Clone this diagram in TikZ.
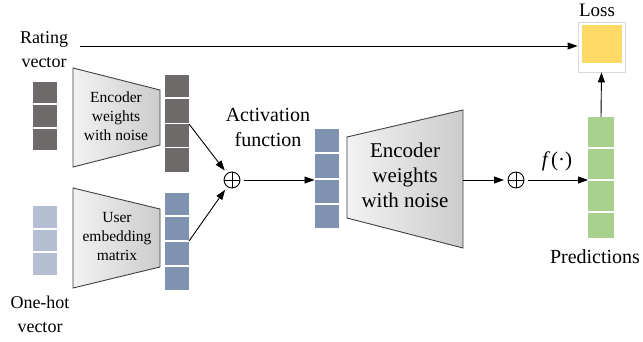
\documentclass[tikz,border=0pt]{standalone}
\usepackage{fontspec}
\setmainfont{Liberation Serif}
\usetikzlibrary{arrows.meta}
\definecolor{darkcell}{HTML}{6E6A6A}
\definecolor{onehotcell}{HTML}{B4BFD4}
\definecolor{bluecell}{HTML}{7F92AF}
\definecolor{greencell}{HTML}{A9D18E}
\definecolor{losscell}{HTML}{FFD966}
\definecolor{trapedge}{HTML}{404040}
\tikzset{
  colbox/.style={draw=none, inner sep=0pt, outer sep=0pt, minimum width=24pt},
  sepline/.style={white, line width=1.6pt},
  trapbox/.style={draw=trapedge, line width=0.9pt, left color=gray!10, right color=gray!40},
  lbl/.style={align=center, inner sep=0pt, font=\fontsize{18}{24}\selectfont},
  smalltrap/.style={align=center, inner sep=0pt, font=\fontsize{15.5}{19}\selectfont},
  bigtrap/.style={align=center, inner sep=0pt, font=\fontsize{21}{25}\selectfont},
  arr/.style={line width=0.9pt, -{Triangle[length=10pt,width=7pt]}},
  opl/.style={circle, draw, line width=0.9pt, minimum size=16pt, inner sep=0pt, outer sep=4pt,
    path picture={\draw[line width=0.9pt] (path picture bounding box.north) -- (path picture bounding box.south)
      (path picture bounding box.west) -- (path picture bounding box.east);}},
}
\begin{document}
\begin{tikzpicture}[x=1pt,y=-1pt]
\useasboundingbox (0,0) rectangle (643,342);

% labels left
\node[lbl] (rvlbl) at (44,50) {Rating\\vector};
\node[lbl] (ohlbl) at (40,314) {One-hot\\vector};

% rating vector column
\node[colbox, fill=darkcell, minimum height=68pt] (rv) at (45,116) {};
\foreach \yy in {104,128} \draw[sepline] (rv.west |- 0,\yy) -- (rv.east |- 0,\yy);

% one-hot column
\node[colbox, fill=onehotcell, minimum height=69pt] (oh) at (45,240.5) {};
\foreach \yy in {229,252} \draw[sepline] (oh.west |- 0,\yy) -- (oh.east |- 0,\yy);

% trapezoid 1
\path[trapbox] (73,68) -- (160,90) -- (160,145) -- (73,167) -- cycle;
\node[smalltrap] (enc1) at (116,116) {Encoder\\weights\\with noise};

% trapezoid 2
\path[trapbox] (73,188) -- (160,209) -- (160,267) -- (73,288) -- cycle;
\node[smalltrap] (emb) at (117,237) {User\\embedding\\matrix};

% column 2 (dark)
\node[colbox, fill=darkcell, minimum height=97pt] (c2) at (177,123.5) {};
\foreach \yy in {98,123.5,147.5} \draw[sepline] (c2.west |- 0,\yy) -- (c2.east |- 0,\yy);

% column 3 (blue)
\node[colbox, fill=bluecell, minimum height=97pt] (c3) at (177,241.5) {};
\foreach \yy in {216,241,266} \draw[sepline] (c3.west |- 0,\yy) -- (c3.east |- 0,\yy);

% oplus 1
\node[opl] (op1) at (232,180) {};
\coordinate (c2out) at (189,124);
\coordinate (c3out) at (189,241);
\draw[arr] (c2out) -- (op1);
\draw[arr] (c3out) -- (op1);

% activation label
\node[bigtrap, font=\fontsize{20}{25}\selectfont] (act) at (268,127) {Activation\\function};

% column 4
\node[colbox, fill=bluecell, minimum height=99pt] (c4) at (326.5,178.5) {};
\foreach \yy in {153,179,204} \draw[sepline] (c4.west |- 0,\yy) -- (c4.east |- 0,\yy);
\draw[arr] (op1) -- (c4.west |- op1);

% trapezoid 3
\path[trapbox] (347,137) -- (463,110) -- (463,248) -- (347,218) -- cycle;
\coordinate (t3out) at (463,180);
\node[bigtrap] (enc2) at (405,175) {Encoder\\weights\\with noise};

% oplus 2
\node[opl] (op2) at (516,180) {};
\draw[arr] (t3out) -- (op2);

% column 5 green
\node[colbox, fill=greencell, minimum width=26pt, minimum height=121pt] (c5) at (601,177.5) {};
\foreach \yy in {148,180,212} \draw[sepline] (c5.west |- 0,\yy) -- (c5.east |- 0,\yy);
\draw[arr] (op2) -- (c5.west |- op2);
\node[inner sep=0pt, font=\fontsize{21}{21}\selectfont] (fdot) at (557,161) {{\itshape f}\,(·)};
\node[lbl, font=\fontsize{20}{24}\selectfont] (pred) at (595,257) {Predictions};

% loss
\node[draw=gray!30, fill=white, line width=0.8pt, minimum width=47pt, minimum height=50pt, inner sep=0pt] (lossbox) at (601.5,47) {};
\fill[losscell] (582,25) rectangle (622,63);
\node[lbl, font=\fontsize{19}{24}\selectfont] (losslbl) at (597,10) {Loss};
\draw[arr] (c5.north) -- (lossbox.south);
\coordinate (rvstart) at (80,46);
\draw[arr, line width=0.8pt] (rvstart) -- (lossbox.west |- rvstart);
\end{tikzpicture}
\end{document}
